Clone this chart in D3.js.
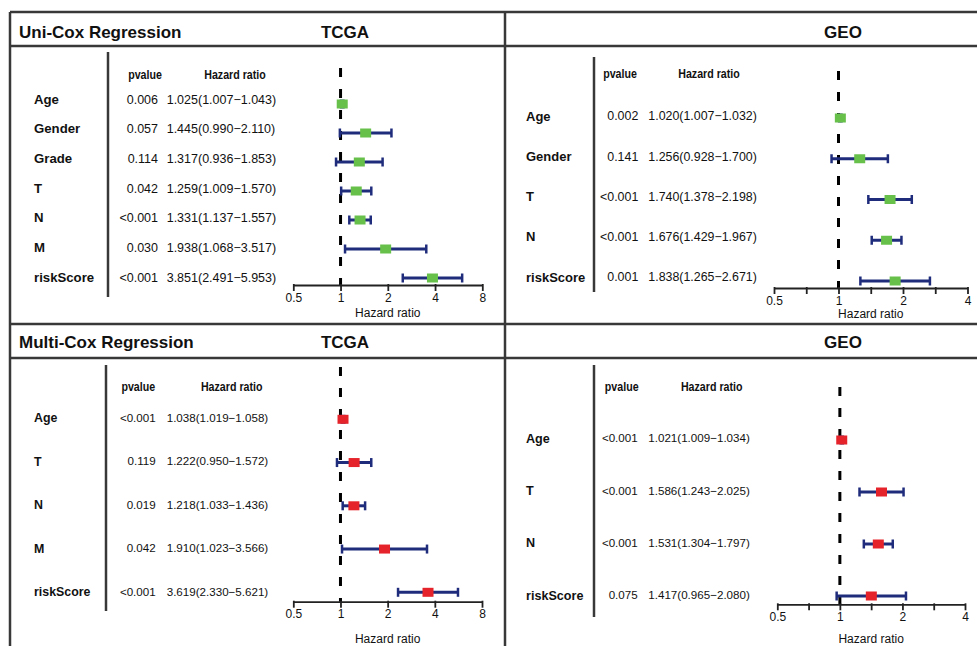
<!DOCTYPE html>
<html>
<head>
<meta charset="utf-8">
<script src="https://cdn.jsdelivr.net/npm/d3@7"></script>
<style>
  body { margin: 0; background: #fff; }
  text { font-family: "Liberation Sans", Arial, Helvetica, sans-serif; fill: #111; }
</style>
</head>
<body>
<svg width="977" height="646"></svg>
<script>
const svg = d3.select("svg")
const width = +svg.attr("width")
const height = +svg.attr("height")

// Uni-Cox, TCGA
const uniTcgaVars = ["Age", "Gender", "Grade", "T", "N", "M", "riskScore"]
const uniTcgaP = ["0.006", "0.057", "0.114", "0.042", "<0.001", "0.030", "<0.001"]
const uniTcgaHR = [1.025, 1.445, 1.317, 1.259, 1.331, 1.938, 3.851]
const uniTcgaLow = [1.007, 0.990, 0.936, 1.009, 1.137, 1.068, 2.491]
const uniTcgaHigh = [1.043, 2.110, 1.853, 1.570, 1.557, 3.517, 5.953]

// Uni-Cox, GEO
const uniGeoVars = ["Age", "Gender", "T", "N", "riskScore"]
const uniGeoP = ["0.002", "0.141", "<0.001", "<0.001", "0.001"]
const uniGeoHR = [1.020, 1.256, 1.740, 1.676, 1.838]
const uniGeoLow = [1.007, 0.928, 1.378, 1.429, 1.265]
const uniGeoHigh = [1.032, 1.700, 2.198, 1.967, 2.671]

// Multi-Cox, TCGA
const multiTcgaVars = ["Age", "T", "N", "M", "riskScore"]
const multiTcgaP = ["<0.001", "0.119", "0.019", "0.042", "<0.001"]
const multiTcgaHR = [1.038, 1.222, 1.218, 1.910, 3.619]
const multiTcgaLow = [1.019, 0.950, 1.033, 1.023, 2.330]
const multiTcgaHigh = [1.058, 1.572, 1.436, 3.566, 5.621]

// Multi-Cox, GEO
const multiGeoVars = ["Age", "T", "N", "riskScore"]
const multiGeoP = ["<0.001", "<0.001", "<0.001", "0.075"]
const multiGeoHR = [1.021, 1.586, 1.531, 1.417]
const multiGeoLow = [1.009, 1.243, 1.304, 0.965]
const multiGeoHigh = [1.034, 2.025, 1.797, 2.080]

// axis ticks
const tcgaTicks = [0.5, 1, 2, 4, 8]
const tcgaTickLabels = ["0.5", "1", "2", "4", "8"]
const geoTicks = [0.5, Math.SQRT1_2, 1, Math.SQRT2, 2, 2 * Math.SQRT2, 4]
const geoTickLabels = ["0.5", "", "1", "", "2", "", "4"]

const frameColor = "#383838"
const barColor = "#1f2c7c"

// frame
const frame = svg.append("g")
    .attr("stroke", frameColor)
    .attr("stroke-width", 2.5)
;[12, 46, 324, 358].forEach(y => {
    frame.append("line").attr("x1", 10).attr("x2", width).attr("y1", y).attr("y2", y)
})
;[10, 505].forEach(x => {
    frame.append("line").attr("x1", x).attr("x2", x).attr("y1", 12).attr("y2", height)
})

// section titles
const titles = [
    { t: "Uni-Cox Regression", x: 19, y: 32, anchor: "start" },
    { t: "TCGA", x: 345, y: 32, anchor: "middle" },
    { t: "GEO", x: 843, y: 32, anchor: "middle" },
    { t: "Multi-Cox Regression", x: 19, y: 342, anchor: "start" },
    { t: "TCGA", x: 345, y: 342, anchor: "middle" },
    { t: "GEO", x: 843, y: 342, anchor: "middle" }
]
svg.selectAll(".title")
    .data(titles)
    .join("text")
    .attr("x", d => d.x)
    .attr("y", d => d.y)
    .attr("dy", "0.36em")
    .attr("text-anchor", d => d.anchor)
    .style("font-size", "17px")
    .style("font-weight", "bold")
    .text(d => d.t)

function drawPanel(p) {
    const g = svg.append("g")
    const n = p.vars.length
    const rows = d3.range(n)
    const fmt = d3.format(".3f")

    const textY = d3.scaleLinear().domain([0, n - 1]).range(p.textY)
    const markY = d3.scaleLinear().domain([0, n - 1]).range(p.markY)
    const x = d3.scaleLog().base(2).domain(p.domain).range(p.xRange)

    // separator
    g.append("line")
        .attr("x1", p.vlineX).attr("x2", p.vlineX)
        .attr("y1", p.vline[0]).attr("y2", p.vline[1])
        .attr("stroke", frameColor)
        .attr("stroke-width", 2.5)

    // headers (condensed bold, squeezed horizontally)
    g.selectAll(".head")
        .data([{ t: "pvalue", x: p.pHeadX }, { t: "Hazard ratio", x: p.hrHeadX }])
        .join("text")
        .attr("transform", d => `translate(${d.x},${p.headY}) scale(0.82,1)`)
        .attr("dy", "0.36em")
        .attr("text-anchor", "middle")
        .style("font-size", "13px").style("font-weight", "bold")
        .text(d => d.t)

    // variable names
    g.selectAll(".lab")
        .data(rows)
        .join("text")
        .attr("x", p.labelX)
        .attr("y", i => textY(i))
        .attr("dy", "0.36em")
        .style("font-size", p.labelSize + "px")
        .style("font-weight", "bold")
        .text(i => p.vars[i])

    g.selectAll(".pv")
        .data(rows)
        .join("text")
        .attr("x", p.pRight)
        .attr("y", i => textY(i))
        .attr("dy", "0.36em")
        .attr("text-anchor", "end")
        .style("font-size", p.textSize + "px")
        .text(i => p.p[i])

    g.selectAll(".hr")
        .data(rows)
        .join("text")
        .attr("x", p.hrLeft)
        .attr("y", i => textY(i))
        .attr("dy", "0.36em")
        .style("font-size", p.textSize + "px")
        .text(i => `${fmt(p.hr[i])}(${fmt(p.low[i])}\u2212${fmt(p.high[i])})`)

    // reference line at HR = 1
    g.append("line")
        .attr("x1", x(1)).attr("x2", x(1))
        .attr("y1", p.dashTop).attr("y2", p.axisY)
        .attr("stroke", "#000")
        .attr("stroke-width", 3)
        .attr("stroke-dasharray", "9,12")

    // confidence intervals
    g.selectAll(".ci")
        .data(rows)
        .join("line")
        .attr("x1", i => x(p.low[i]))
        .attr("x2", i => x(p.high[i]))
        .attr("y1", i => markY(i))
        .attr("y2", i => markY(i))
        .attr("stroke", barColor)
        .attr("stroke-width", 3)

    const caps = rows.flatMap(i => [{ i, v: p.low[i] }, { i, v: p.high[i] }])
    g.selectAll(".cap")
        .data(caps)
        .join("line")
        .attr("x1", d => x(d.v))
        .attr("x2", d => x(d.v))
        .attr("y1", d => markY(d.i) - 4.5)
        .attr("y2", d => markY(d.i) + 4.5)
        .attr("stroke", barColor)
        .attr("stroke-width", 2.5)

    g.selectAll(".box")
        .data(rows)
        .join("rect")
        .attr("x", i => x(p.hr[i]) - 5.5)
        .attr("y", i => markY(i) - 4.5)
        .attr("width", 11)
        .attr("height", 9)
        .attr("fill", p.boxColor)

    // axis
    const axis = d3.axisBottom(x)
        .tickValues(p.ticks)
        .tickFormat((d, i) => p.tickLabels[i])
        .tickSize(6)
        .tickSizeOuter(0)
        .tickPadding(2)
    const ax = g.append("g")
        .attr("transform", `translate(0,${p.axisY})`)
        .call(axis)
    ax.select(".domain").attr("stroke", "#222").attr("stroke-width", 1.8)
    ax.selectAll(".tick line").attr("stroke", "#222").attr("stroke-width", 1.8).attr("y1", -1)
    ax.selectAll(".tick text")
        .style("font-family", "'Liberation Sans', Arial, sans-serif")
        .style("font-size", "12px")
        .attr("fill", "#111")

    g.append("text")
        .attr("x", x(Math.sqrt(p.domain[0] * p.domain[1])))
        .attr("y", p.titleY)
        .attr("dy", "0.36em")
        .attr("text-anchor", "middle")
        .style("font-size", "12px")
        .text("Hazard ratio")
}

drawPanel({
    vars: uniTcgaVars, p: uniTcgaP, hr: uniTcgaHR, low: uniTcgaLow, high: uniTcgaHigh,
    boxColor: "#67c04a",
    labelX: 34, vlineX: 108, vline: [52, 297],
    pRight: 158, hrLeft: 166.7, headY: 74, pHeadX: 145, hrHeadX: 235,
    textY: [99, 277], markY: [104, 278],
    domain: [0.5, 8], xRange: [293.3, 482.3],
    axisY: 285, titleY: 313, dashTop: 68,
    ticks: tcgaTicks, tickLabels: tcgaTickLabels,
    labelSize: 13.2, textSize: 12.5
})

drawPanel({
    vars: uniGeoVars, p: uniGeoP, hr: uniGeoHR, low: uniGeoLow, high: uniGeoHigh,
    boxColor: "#67c04a",
    labelX: 526, vlineX: 594, vline: [57, 292],
    pRight: 638.3, hrLeft: 648.3, headY: 73, pHeadX: 620, hrHeadX: 709,
    textY: [116, 277], markY: [118, 281],
    domain: [0.5, 4], xRange: [774, 967.5],
    axisY: 288, titleY: 313.5, dashTop: 71,
    ticks: geoTicks, tickLabels: geoTickLabels,
    labelSize: 13, textSize: 12.4
})

drawPanel({
    vars: multiTcgaVars, p: multiTcgaP, hr: multiTcgaHR, low: multiTcgaLow, high: multiTcgaHigh,
    boxColor: "#e5232a",
    labelX: 34, vlineX: 106, vline: [365, 611],
    pRight: 155.7, hrLeft: 166.7, headY: 386, pHeadX: 138.3, hrHeadX: 231.7,
    textY: [417.7, 591.7], markY: [419.3, 592.3],
    domain: [0.5, 8], xRange: [293.3, 482],
    axisY: 601.7, titleY: 639, dashTop: 367,
    ticks: tcgaTicks, tickLabels: tcgaTickLabels,
    labelSize: 12.4, textSize: 11.6
})

drawPanel({
    vars: multiGeoVars, p: multiGeoP, hr: multiGeoHR, low: multiGeoLow, high: multiGeoHigh,
    boxColor: "#e5232a",
    labelX: 526, vlineX: 594, vline: [365, 617],
    pRight: 637.7, hrLeft: 648.3, headY: 386, pHeadX: 621.7, hrHeadX: 711.7,
    textY: [438.3, 595], markY: [440, 596],
    domain: [0.5, 4], xRange: [777.3, 965],
    axisY: 604.3, titleY: 638.3, dashTop: 387,
    ticks: geoTicks, tickLabels: geoTickLabels,
    labelSize: 12.6, textSize: 11.6
})
</script>
</body>
</html>
